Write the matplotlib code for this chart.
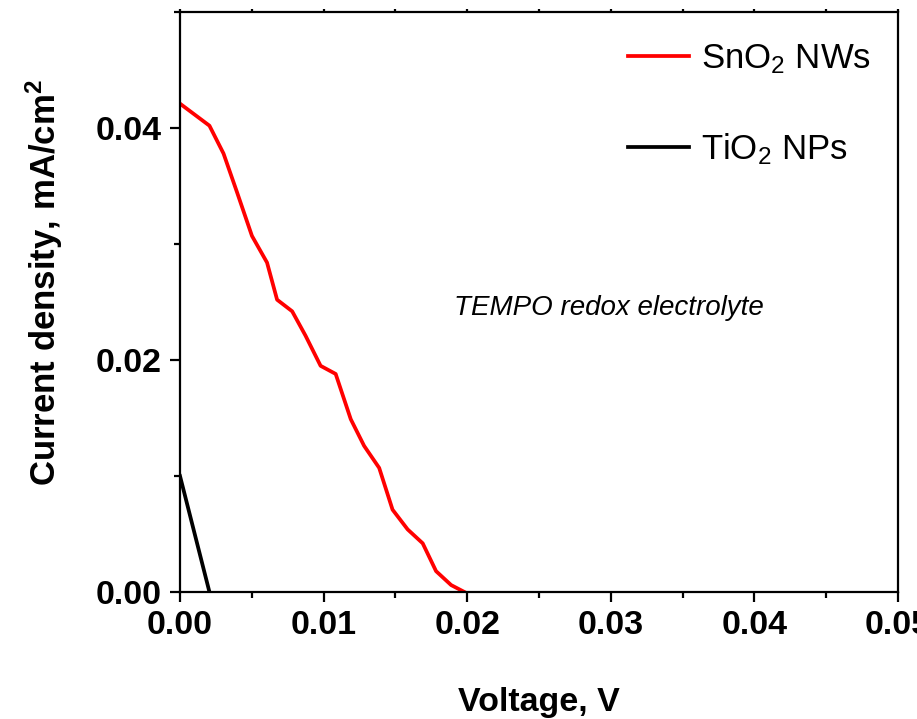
import matplotlib
matplotlib.use("Agg")
import matplotlib.pyplot as plt
from matplotlib.ticker import MultipleLocator

plt.rcParams['font.family'] = ['Liberation Sans', 'DejaVu Sans']
plt.rcParams['mathtext.default'] = 'regular'

# J-V data
sno2_v = [0.0, 0.00205, 0.00303, 0.00396, 0.00501, 0.00606, 0.00676, 0.00781,
          0.00874, 0.00979, 0.01084, 0.01189, 0.01282, 0.01387, 0.0148,
          0.01585, 0.0169, 0.01783, 0.01888, 0.01981]
sno2_j = [0.0421, 0.0402, 0.0378, 0.0345, 0.0307, 0.0284, 0.0252, 0.0242,
          0.0221, 0.0195, 0.0188, 0.0149, 0.0126, 0.0107, 0.0071,
          0.0054, 0.0042, 0.0018, 0.0006, 0.0]
tio2_v = [0.0, 0.00205]
tio2_j = [0.0100, 0.0]

fig = plt.figure(figsize=(9.17, 7.19), dpi=100)
ax = fig.add_axes([0.1963, 0.1766, 0.783, 0.8067])

ax.plot(sno2_v, sno2_j, color='#ff0000', lw=2.7, label='SnO$_2$ NWs')
ax.plot(tio2_v, tio2_j, color='black', lw=2.7, label='TiO$_2$ NPs')

ax.set_xlim(0, 0.05)
ax.set_ylim(0, 0.05)
ax.xaxis.set_major_locator(MultipleLocator(0.01))
ax.xaxis.set_minor_locator(MultipleLocator(0.005))
ax.yaxis.set_major_locator(MultipleLocator(0.02))
ax.yaxis.set_minor_locator(MultipleLocator(0.01))
ax.xaxis.set_major_formatter(plt.FormatStrFormatter('%.2f'))
ax.yaxis.set_major_formatter(plt.FormatStrFormatter('%.2f'))

for s in ax.spines.values():
    s.set_linewidth(1.6)
ax.tick_params(which='major', direction='out', length=7, width=1.6, pad=6,
               labelsize=24.5)
ax.tick_params(which='minor', direction='out', length=4, width=1.6)
ax.tick_params(which='both', top=True, right=False)
# tiny ticks on the top spine
for t in ax.xaxis.get_major_ticks() + ax.xaxis.get_minor_ticks():
    t.tick2line.set_markersize(2.5)
for lab in ax.get_xticklabels() + ax.get_yticklabels():
    lab.set_fontweight('bold')

ax.set_xlabel('Voltage, V', fontsize=24.5, fontweight='bold', labelpad=33)
ax.set_ylabel('Current density, mA/cm$^2$', fontsize=25, fontweight='bold')
ax.yaxis.set_label_coords(-0.16, 0.533)

ax.text(0.0191, 0.0245, 'TEMPO redox electrolyte', fontsize=20,
        style='italic', va='center')

leg = ax.legend(loc='upper right', bbox_to_anchor=(0.962, 0.948), frameon=False,
                fontsize=25, handlelength=1.75, handletextpad=0.35,
                labelspacing=1.6, borderpad=0, borderaxespad=0)

fig.savefig('out.png', dpi=100)
